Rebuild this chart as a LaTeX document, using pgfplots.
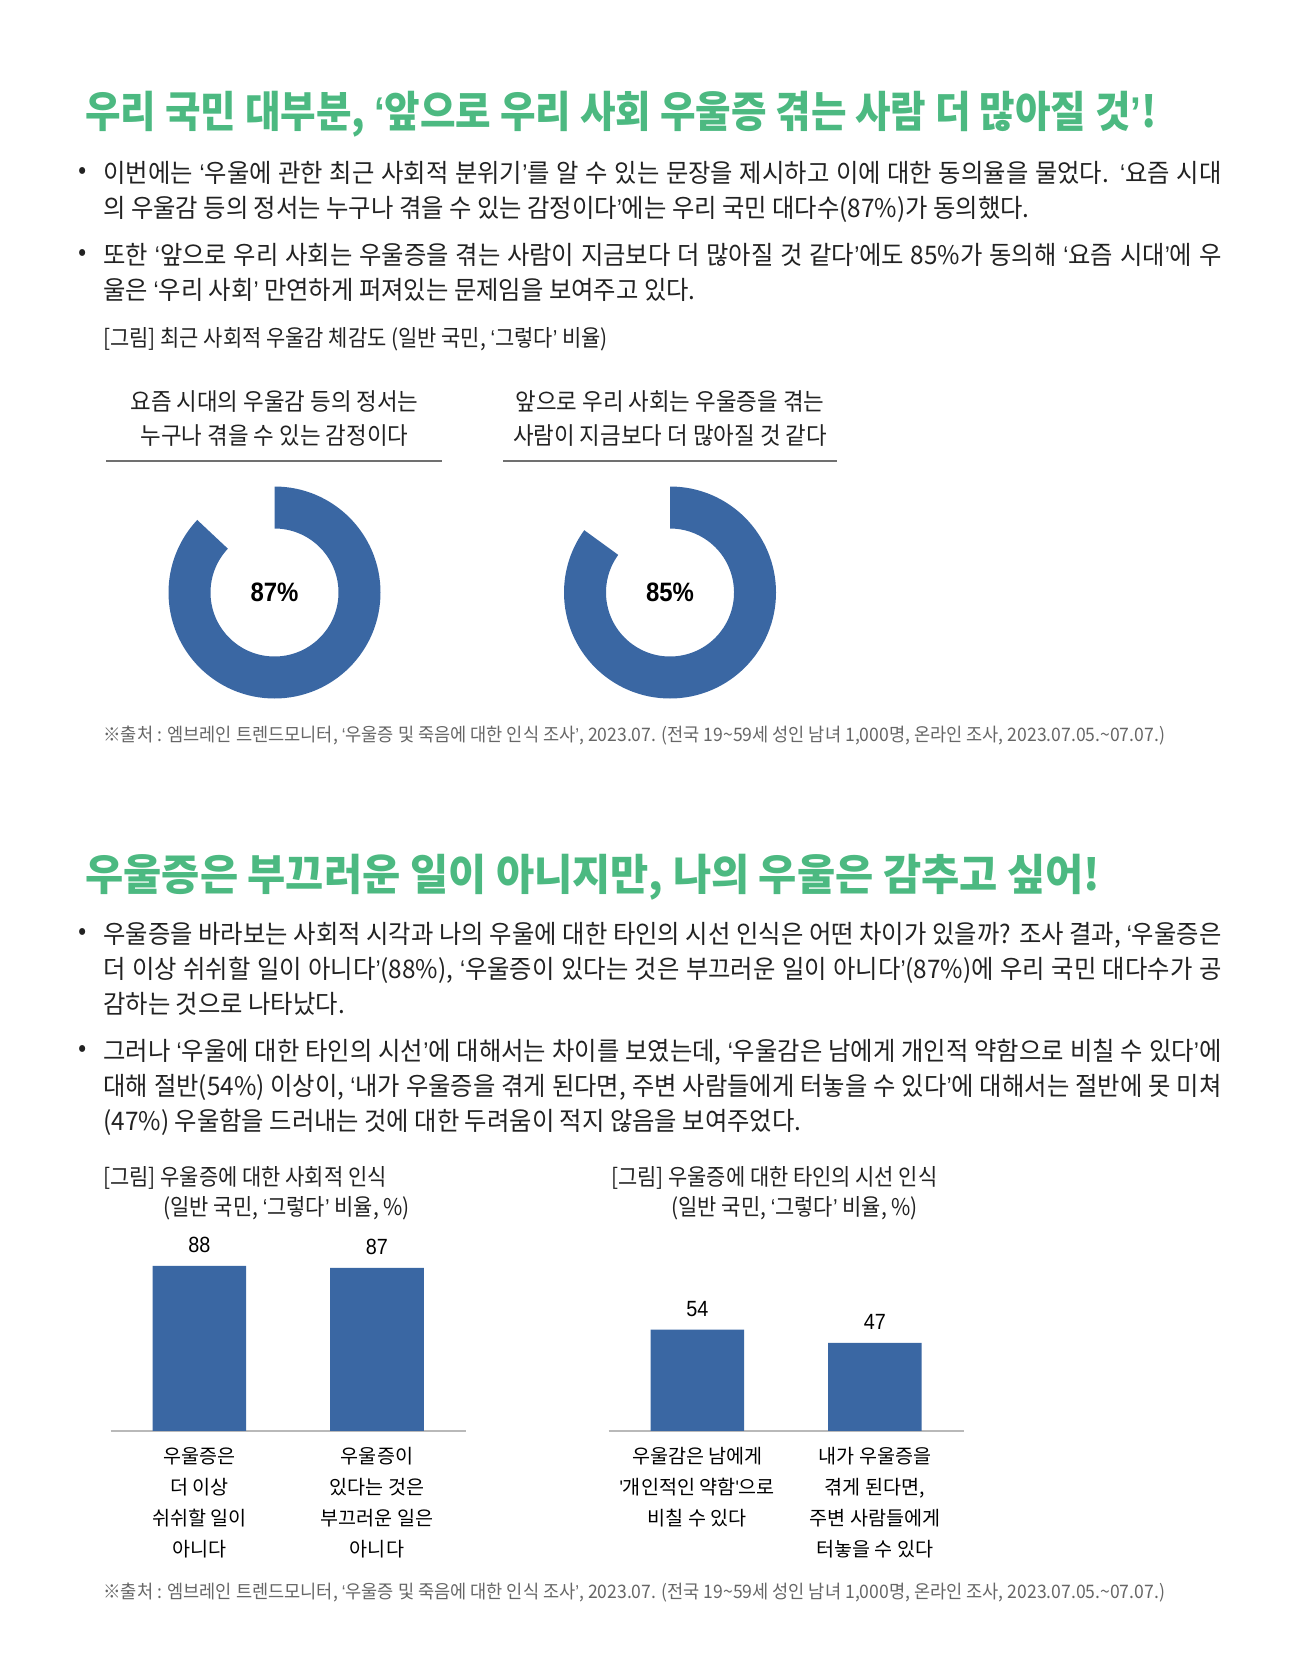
\documentclass[border=0pt]{standalone}
\usepackage{fontspec}
\usepackage{pgfplots}
\usepackage{pgfplotstable}
\pgfplotsset{compat=1.18}
\setmainfont{Noto Sans CJK KR}
\newfontfamily\ktitle{Noto Sans CJK KR}[FakeStretch=0.966]
\newfontfamily\ktitleA{Noto Sans CJK KR}[FakeStretch=0.898]
\newfontfamily\kbody{Noto Sans CJK KR}[FakeStretch=0.95]
\newfontfamily\kfig{Noto Sans CJK KR}[FakeStretch=0.91]
\newfontfamily\kdon{Noto Sans CJK KR}[FakeStretch=0.934]
\newfontfamily\ksrc{Noto Sans CJK KR}[FakeStretch=0.945]
\newfontfamily\krn{Noto Sans CJK KR}
\newfontfamily\num{Liberation Sans}[FakeStretch=0.9]
\definecolor{tgreen}{HTML}{4CB981}
\definecolor{barblue}{HTML}{3A67A3}
\definecolor{txt}{HTML}{222222}
\definecolor{src}{HTML}{666666}
\definecolor{uline}{HTML}{707070}

\newcommand\oq{{\num ‘}}
\newcommand\cq{{\num ’}}

\pgfplotstableread{
id value
1 87
2 85
}\donutdata
\pgfplotstableread{
x value
0.5 88
1.5 87
}\barsA
\pgfplotstableread{
x value
0.5 54
1.5 47
}\barsB

\pgfplotstablegetelem{0}{value}\of\donutdata \edef\vA{\pgfplotsretval}
\pgfplotstablegetelem{1}{value}\of\donutdata \edef\vB{\pgfplotsretval}

\newcommand\ftitle{\ktitle\bfseries\fontsize{21.5}{24}\selectfont}
\newcommand\ftitleA{\ktitleA\bfseries\fontsize{21.5}{24}\selectfont}
\newcommand\fbody{\kbody\fontsize{12.8}{15}\selectfont}
\newcommand\ffig{\kfig\fontsize{11.5}{14}\selectfont}
\newcommand\fdon{\kdon\fontsize{12}{14}\selectfont}
\newcommand\fsrc{\ksrc\fontsize{9.3}{11}\selectfont}
\newcommand\fcat{\krn\fontsize{9.8}{15.5}\selectfont}
\newcommand\fval{\num\fontsize{11}{13}\selectfont}
\newcommand\fpct{\num\bfseries\fontsize{13.3}{16}\selectfont}

\newcommand\bl[2]{\node[anchor=base west,inner sep=0,text=txt] at (103,#1) {\fbody\makebox[559pt][s]{#2}};}
\newcommand\lastl[2]{\node[anchor=base west,inner sep=0,text=txt] at (103,#1) {\fbody #2};}
\newcommand\bul[1]{\node[inner sep=0,text=txt] at (83,#1) {\fbody •};}

\begin{document}
\begin{tikzpicture}[x=0.5pt,y=-0.5pt]
\path[use as bounding box] (0,0) rectangle (1301,1668);

% ---------- section 1
\node[anchor=base west,inner sep=0,text=tgreen] at (85,127.5) {\ftitleA 우리 국민 대부분, \oq 앞으로 우리 사회 우울증 겪는 사람 더 많아질 것\cq!};
\bul{173.4}
\bl{183}{이번에는 \oq 우울에 관한 최근 사회적 분위기\cq 를 알 수 있는 문장을 제시하고 이에 대한 동의율을 물었다. \oq 요즘 시대}
\lastl{218}{의 우울감 등의 정서는 누구나 겪을 수 있는 감정이다\cq 에는 우리 국민 대다수(87\%)가 동의했다.}
\bul{255.3}
\bl{265}{또한 \oq 앞으로 우리 사회는 우울증을 겪는 사람이 지금보다 더 많아질 것 같다\cq 에도 85\%가 동의해 \oq 요즘 시대\cq 에 우}
\lastl{300}{울은 \oq 우리 사회\cq\ 만연하게 퍼져있는 문제임을 보여주고 있다.}
\node[anchor=base west,inner sep=0,text=txt] at (103,346.2) {\ffig [그림] 최근 사회적 우울감 체감도 (일반 국민, \oq 그렇다\cq\ 비율)};

\node[anchor=base,inner sep=0,text=txt] at (274.5,410.3) {\fdon 요즘 시대의 우울감 등의 정서는};
\node[anchor=base,inner sep=0,text=txt] at (274.5,444.5) {\fdon 누구나 겪을 수 있는 감정이다};
\node[anchor=base,inner sep=0,text=txt] at (670,410.3) {\fdon 앞으로 우리 사회는 우울증을 겪는};
\node[anchor=base,inner sep=0,text=txt] at (670,444.5) {\fdon 사람이 지금보다 더 많아질 것 같다};
\draw[uline,line width=1pt] (106.4,460.6) -- (441.5,460.6);
\draw[uline,line width=1pt] (503,460.6) -- (837,460.6);

\begin{axis}[at={(137.25pt,-296.25pt)},anchor=center,width=106pt,height=106pt,scale only axis,
  xmin=-1,xmax=1,ymin=-1,ymax=1,hide axis,clip=false]
\coordinate (cA) at (axis cs:0,0);
\fill[barblue] ([shift={(90:53pt)}]cA) arc[start angle=90,end angle={90-3.6*\vA},radius=53pt]
  -- ([shift={({90-3.6*\vA}:32pt)}]cA) arc[start angle={90-3.6*\vA},end angle=90,radius=32pt] -- cycle;
\node[inner sep=0,text=black] at (axis cs:0,0) {\fpct \vA\%};
\end{axis}

\begin{axis}[at={(335pt,-296.25pt)},anchor=center,width=106pt,height=106pt,scale only axis,
  xmin=-1,xmax=1,ymin=-1,ymax=1,hide axis,clip=false]
\coordinate (cB) at (axis cs:0,0);
\fill[barblue] ([shift={(90:53pt)}]cB) arc[start angle=90,end angle={90-3.6*\vB},radius=53pt]
  -- ([shift={({90-3.6*\vB}:32pt)}]cB) arc[start angle={90-3.6*\vB},end angle=90,radius=32pt] -- cycle;
\node[inner sep=0,text=black] at (axis cs:0,0) {\fpct \vB\%};
\end{axis}

\node[anchor=base west,inner sep=0,text=src] at (103,741) {\fsrc ※출처 : 엠브레인 트렌드모니터, \oq 우울증 및 죽음에 대한 인식 조사\cq, 2023.07. (전국 19\textasciitilde59세 성인 남녀 1,000명, 온라인 조사, 2023.07.05.\textasciitilde07.07.)};

% ---------- section 2
\node[anchor=base west,inner sep=0,text=tgreen] at (85,890) {\ftitle 우울증은 부끄러운 일이 아니지만, 나의 우울은 감추고 싶어!};
\bul{934}
\bl{943.5}{우울증을 바라보는 사회적 시각과 나의 우울에 대한 타인의 시선 인식은 어떤 차이가 있을까? 조사 결과, \oq 우울증은}
\bl{978.6}{더 이상 쉬쉬할 일이 아니다\cq(88\%), \oq 우울증이 있다는 것은 부끄러운 일이 아니다\cq(87\%)에 우리 국민 대다수가 공}
\lastl{1013.7}{감하는 것으로 나타났다.}
\bul{1051}
\bl{1060.5}{그러나 \oq 우울에 대한 타인의 시선\cq 에 대해서는 차이를 보였는데, \oq 우울감은 남에게 개인적 약함으로 비칠 수 있다\cq 에}
\bl{1095.6}{대해 절반(54\%) 이상이, \oq 내가 우울증을 겪게 된다면, 주변 사람들에게 터놓을 수 있다\cq 에 대해서는 절반에 못 미쳐}
\lastl{1130.7}{(47\%) 우울함을 드러내는 것에 대한 두려움이 적지 않음을 보여주었다.}

\node[anchor=base west,inner sep=0,text=txt] at (103,1185.5) {\ffig [그림] 우울증에 대한 사회적 인식};
\node[anchor=base,inner sep=0,text=txt] at (286.7,1215.3) {\ffig (일반 국민, \oq 그렇다\cq\ 비율, \%)};
\node[anchor=base west,inner sep=0,text=txt] at (610.6,1185.5) {\ffig [그림] 우울증에 대한 타인의 시선 인식};
\node[anchor=base,inner sep=0,text=txt] at (794.7,1215.3) {\ffig (일반 국민, \oq 그렇다\cq\ 비율, \%)};

\pgfplotsset{barax/.style={anchor=south west,width=177.6pt,height=93.65pt,scale only axis,
  xmin=0,xmax=2,ymin=0,ymax=100,ybar,bar width=46.8pt,
  axis x line=bottom,axis y line=none,
  x axis line style={-,draw=gray!55,line width=1pt},
  xtick={0.5,1.5},major tick length=0,
  xticklabel style={align=center,font=\fcat,inner sep=0pt,yshift=-8pt,text=black},
  nodes near coords,
  nodes near coords style={font=\fval,text=black,anchor=base,inner sep=0,yshift=6.5pt},
  /pgf/number format/assume math mode=true,
  clip=false}}

\begin{axis}[barax,at={(55.3pt,-715.4pt)},
  xticklabels={{우울증은\\더 이상\\쉬쉬할 일이\\아니다},{우울증이\\있다는 것은\\부끄러운 일은\\아니다}}]
\addplot[fill=barblue,draw=none] table[x=x,y=value]{\barsA};
\end{axis}

\begin{axis}[barax,at={(304.25pt,-715.4pt)},
  xticklabels={{우울감은 남에게\\{\num\char"27}개인적인 약함{\num\char"27}으로\\비칠 수 있다},{내가 우울증을\\겪게 된다면,\\주변 사람들에게\\터놓을 수 있다}}]
\addplot[fill=barblue,draw=none] table[x=x,y=value]{\barsB};
\end{axis}

\node[anchor=base west,inner sep=0,text=src] at (103,1598.6) {\fsrc ※출처 : 엠브레인 트렌드모니터, \oq 우울증 및 죽음에 대한 인식 조사\cq, 2023.07. (전국 19\textasciitilde59세 성인 남녀 1,000명, 온라인 조사, 2023.07.05.\textasciitilde07.07.)};

\end{tikzpicture}
\end{document}
